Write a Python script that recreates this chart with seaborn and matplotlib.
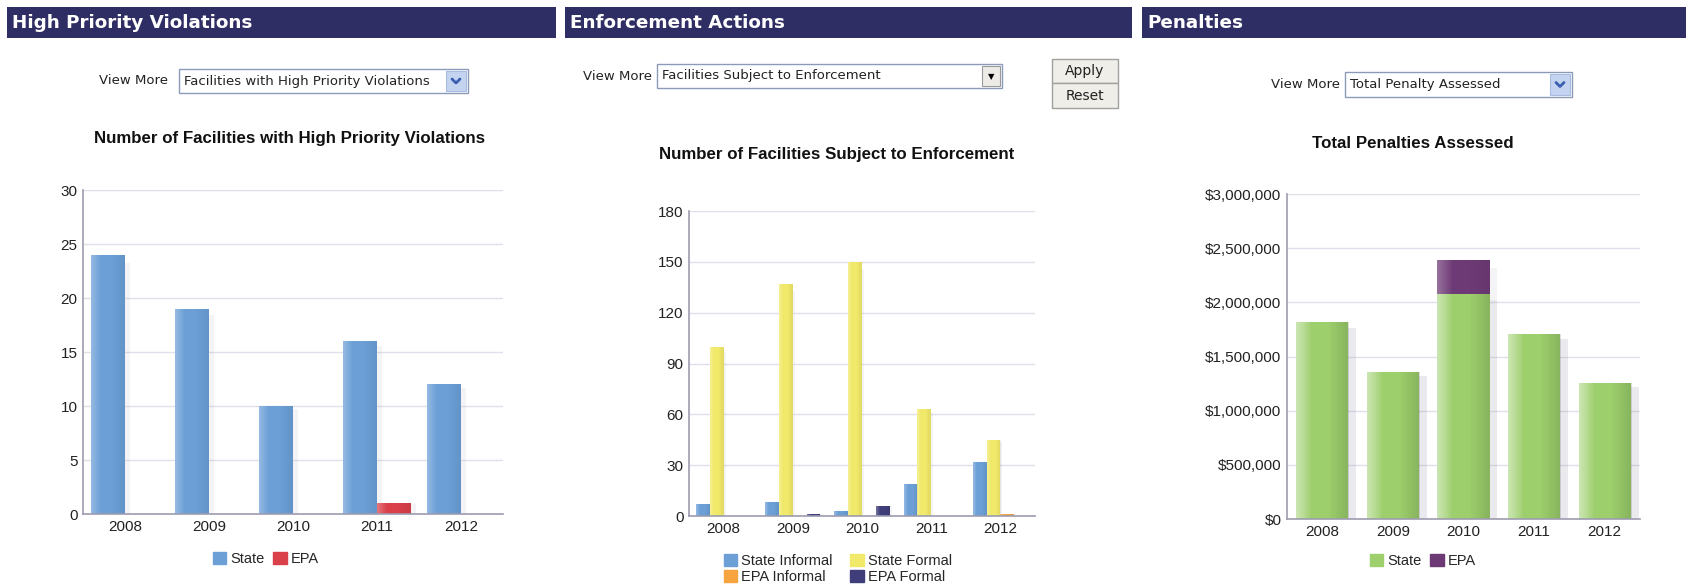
import numpy as np
import pandas as pd
import seaborn as sns
import matplotlib.pyplot as plt
from matplotlib.patches import Rectangle, Patch
from matplotlib.lines import Line2D
from matplotlib.ticker import FuncFormatter, MultipleLocator

# valores
anos = ['2008', '2009', '2010', '2011', '2012']

hpv_state = [24, 19, 10, 16, 12]
hpv_epa = [0, 0, 0, 1, 0]

enf_state_informal = [7, 8, 3, 19, 32]
enf_state_formal = [100, 137, 150, 63, 45]
enf_epa_informal = [0, 0, 0, 0, 1]
enf_epa_formal = [0, 1, 6, 0, 0]

pen_state = [1820000, 1360000, 2080000, 1710000, 1260000]
pen_epa = [0, 0, 310000, 0, 0]

# cores
azul = '#6b9fd6'
vermelho = '#d9404a'
amarelo = '#f1e96a'
laranja = '#f6a340'
marinho = '#3f3e7a'
verde = '#9dcf6c'
roxo = '#6e3a76'
cab = '#2f2e64'

W, H = 1686, 587

sns.set_style('white')
plt.rcParams['font.family'] = ['Liberation Sans', 'DejaVu Sans']

fig = plt.figure(figsize=(W / 100, H / 100), dpi=100)


def caixa(x0, y0, x1, y1):
    # pixeis -> coordenadas da figura
    return [x0 / W, 1 - y1 / H, (x1 - x0) / W, (y1 - y0) / H]


def txt(x, y, s, **kw):
    fig.text(x / W, 1 - y / H, s, **kw)


def rect(x0, y0, x1, y1, **kw):
    fig.patches.append(Rectangle((x0 / W, 1 - y1 / H), (x1 - x0) / W, (y1 - y0) / H,
                                 transform=fig.transFigure, figure=fig, **kw))


#cabecalhos
for x0, x1, nome in [(7, 556, 'High Priority Violations'),
                     (565, 1132, 'Enforcement Actions'),
                     (1142, 1686, 'Penalties')]:
    rect(x0, 7, x1, 38, facecolor=cab, edgecolor='none')
    txt(x0 + 5, 23, nome, color='white', fontsize=13.2, fontweight='bold',
        family='DejaVu Sans', va='center', ha='left')

ui = dict(family='DejaVu Sans', fontsize=9.5, color='#222222', va='center')


def dropdown(xt, x0, x1, y0, y1, texto, seta_azul=True):
    txt(xt, (y0 + y1) / 2, 'View More', ha='right', **ui)
    rect(x0, y0, x1, y1, facecolor='white', edgecolor='#8a9ab8', linewidth=1)
    txt(x0 + 5, (y0 + y1) / 2, texto, ha='left', **ui)
    if seta_azul:
        rect(x1 - 22, y0 + 2, x1 - 2, y1 - 2, facecolor='#c4d4f0', edgecolor='#a8bce0', linewidth=0.8)
        cx, cy = x1 - 12, (y0 + y1) / 2
        fig.lines.append(Line2D([(cx - 4) / W, cx / W, (cx + 4) / W],
                                [1 - (cy - 2) / H, 1 - (cy + 2) / H, 1 - (cy - 2) / H],
                                transform=fig.transFigure, color='#3a5fb0', linewidth=2))
    else:
        rect(x1 - 20, y0 + 2, x1 - 2, y1 - 2, facecolor='#ecebe6', edgecolor='#9a9a9a', linewidth=0.8)
        txt(x1 - 11, (y0 + y1) / 2 + 1, '▼', ha='center', va='center', fontsize=6,
            color='black', family='DejaVu Sans')


dropdown(168, 179, 468, 69, 93, 'Facilities with High Priority Violations')
dropdown(652, 657, 1002, 64, 88, 'Facilities Subject to Enforcement', seta_azul=False)
dropdown(1340, 1345, 1572, 72, 97, 'Total Penalty Assessed')

for y0, y1, s in [(59, 83, 'Apply'), (83, 108, 'Reset')]:
    rect(1052, y0, 1118, y1, facecolor='#efeee8', edgecolor='#a0a0a0', linewidth=1)
    txt(1085, (y0 + y1) / 2, s, ha='center', family='DejaVu Sans', fontsize=10,
        color='#222222', va='center')

# titulos
titulo = dict(fontsize=12.2, fontweight='bold', color='#111111', ha='center', va='center')
txt(290, 138, 'Number of Facilities with High Priority Violations', **titulo)
txt(837, 155, 'Number of Facilities Subject to Enforcement', **titulo)
txt(1413, 143, 'Total Penalties Assessed', **titulo)


def estilo(ax):
    ax.grid(axis='y', color='#dfe0ea', linewidth=1)
    ax.set_axisbelow(True)
    for s in ['top', 'right']:
        ax.spines[s].set_visible(False)
    for s in ['left', 'bottom']:
        ax.spines[s].set_color('#9c9cb0')
        ax.spines[s].set_linewidth(1.2)
    ax.tick_params(axis='both', length=0, labelsize=11, colors='#222222', pad=4)
    ax.set_xlabel('')
    ax.set_ylabel('')


# brilho leve nas barras (efeito cilindro)
grad = np.zeros((1, 64, 4))
t = np.linspace(0, 1, 64)
brilho = np.clip(0.28 * (1 - t / 0.3), 0, None)
sombra = np.clip(0.07 * (t - 0.6) / 0.4, 0, None)
grad[0, :, :3] = np.where(brilho[:, None] > 0, 1.0, 0.0)
grad[0, :, 3] = brilho + sombra


def brilhar(ax):
    for p in list(ax.patches):
        if p.get_height() <= 0:
            continue
        x0, y0 = p.get_x(), p.get_y()
        x1, y1 = x0 + p.get_width(), y0 + p.get_height()
        # sombra suave a direita
        ax.add_patch(Rectangle((x1, y0), p.get_width() * 0.15, p.get_height() * 0.97,
                               facecolor='#8a8aa0', alpha=0.09, edgecolor='none', zorder=p.get_zorder() - 0.1))
        im = ax.imshow(grad, extent=[x0, x1, y0, y1], aspect='auto', zorder=p.get_zorder() + 0.1,
                       interpolation='bilinear')
        im.set_clip_path(p)


# grafico 1 - HPV
df1 = pd.DataFrame({'Ano': anos * 2,
                    'Valor': hpv_state + hpv_epa,
                    'Serie': ['State'] * 5 + ['EPA'] * 5})
ax1 = fig.add_axes(caixa(83, 190, 503, 514))
sns.barplot(data=df1, x='Ano', y='Valor', hue='Serie', palette=[azul, vermelho],
            saturation=1, width=0.8, legend=False, linewidth=0, ax=ax1)
brilhar(ax1)
ax1.set_xlim(-0.5, 4.5)
ax1.set_ylim(0, 30)
ax1.yaxis.set_major_locator(MultipleLocator(5))
estilo(ax1)
ax1.legend(handles=[Patch(color=azul), Patch(color=vermelho)], labels=['State', 'EPA'],
           loc='center', bbox_to_anchor=(266 / W, 1 - 559 / H), bbox_transform=fig.transFigure,
           ncol=2, frameon=False, fontsize=10.5, handlelength=0.9, handleheight=0.9,
           handletextpad=0.3, columnspacing=0.6)

# grafico 2 - enforcement
series2 = ['State Informal', 'State Formal', 'EPA Informal', 'EPA Formal']
df2 = pd.DataFrame({'Ano': anos * 4,
                    'Valor': enf_state_informal + enf_state_formal + enf_epa_informal + enf_epa_formal,
                    'Serie': sum([[s] * 5 for s in series2], [])})
ax2 = fig.add_axes(caixa(689, 211, 1035, 516))
sns.barplot(data=df2, x='Ano', y='Valor', hue='Serie', palette=[azul, amarelo, laranja, marinho],
            saturation=1, width=0.8, legend=False, linewidth=0, ax=ax2)
brilhar(ax2)
ax2.set_xlim(-0.5, 4.5)
ax2.set_ylim(0, 180)
ax2.yaxis.set_major_locator(MultipleLocator(30))
estilo(ax2)
ax2.legend(handles=[Patch(color=c) for c in [azul, laranja, amarelo, marinho]],
           labels=['State Informal', 'EPA Informal', 'State Formal', 'EPA Formal'],
           loc='center', bbox_to_anchor=(838 / W, 1 - 569 / H), bbox_transform=fig.transFigure,
           ncol=2, frameon=False, fontsize=10.5, handlelength=0.9, handleheight=0.9,
           handletextpad=0.3, columnspacing=1.2, labelspacing=0.15)

# grafico 3 - penalidades (empilhado)
pen_total = [a + b for a, b in zip(pen_state, pen_epa)]
ax3 = fig.add_axes(caixa(1287, 194, 1640, 519))
sns.barplot(x=anos, y=pen_total, color=roxo, saturation=1, width=0.74, linewidth=0, ax=ax3)
sns.barplot(x=anos, y=pen_state, color=verde, saturation=1, width=0.74, linewidth=0, ax=ax3)
brilhar(ax3)
ax3.set_xlim(-0.5, 4.5)
ax3.set_ylim(0, 3000000)
ax3.yaxis.set_major_locator(MultipleLocator(500000))
ax3.yaxis.set_major_formatter(FuncFormatter(lambda v, p: '${:,.0f}'.format(v)))
estilo(ax3)
ax3.legend(handles=[Patch(color=verde), Patch(color=roxo)], labels=['State', 'EPA'],
           loc='center', bbox_to_anchor=(1423 / W, 1 - 561 / H), bbox_transform=fig.transFigure,
           ncol=2, frameon=False, fontsize=10.5, handlelength=0.9, handleheight=0.9,
           handletextpad=0.3, columnspacing=0.6)

fig.savefig('out.png', dpi=100)
